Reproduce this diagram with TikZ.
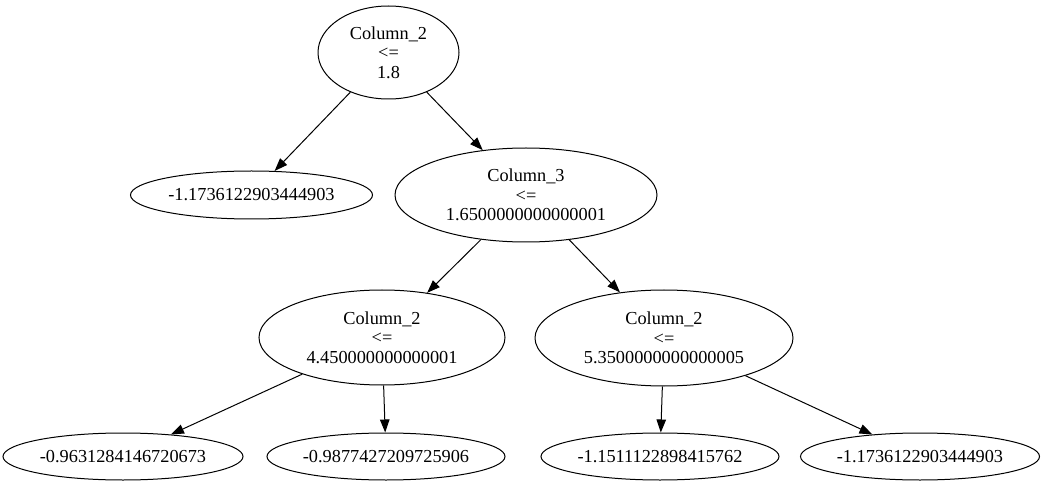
\documentclass[tikz,border=0pt]{standalone}
\usepackage{fontspec}
\setmainfont{Liberation Serif}
\usetikzlibrary{shapes.geometric,arrows.meta}
\begin{document}
\begin{tikzpicture}[x=1pt,y=-1pt,
  nd/.style={draw,ellipse,inner sep=0pt,line width=1pt,align=center,
    font=\fontsize{18.3}{19.5}\selectfont},
  edge/.style={line width=1pt,-{Triangle[length=13pt,width=9.5pt]}}]
\useasboundingbox[fill=white] (0,0) rectangle (1052,486);
\node[nd,minimum width=141pt,minimum height=93pt] (root) at (388.5,52.5) {Column\_2\\<=\\1.8};
\node[nd,minimum width=242pt,minimum height=48pt] (l1) at (251.5,195) {-1.1736122903444903};
\node[nd,minimum width=262pt,minimum height=94pt] (c3) at (526,195) {Column\_3\\<=\\1.6500000000000001};
\node[nd,minimum width=246pt,minimum height=95pt] (c2a) at (382,337.5) {Column\_2\\<=\\4.450000000000001};
\node[nd,minimum width=258pt,minimum height=96pt] (c2b) at (664,338) {Column\_2\\<=\\5.3500000000000005};
\node[nd,minimum width=240pt,minimum height=47pt] (a1) at (123,456.5) {-0.9631284146720673};
\node[nd,minimum width=238pt,minimum height=47pt] (a2) at (386,456.5) {-0.9877427209725906};
\node[nd,minimum width=238pt,minimum height=47pt] (b1) at (660,456.5) {-1.1511122898415762};
\node[nd,minimum width=239pt,minimum height=47pt] (b2) at (920,456.5) {-1.1736122903444903};
\draw[edge] (root) -- (l1);
\draw[edge] (root) -- (c3);
\draw[edge] (c3) -- (c2a);
\draw[edge] (c3) -- (c2b);
\draw[edge] (c2a) -- (a1);
\draw[edge] (c2a) -- (a2);
\draw[edge] (c2b) -- (b1);
\draw[edge] (c2b) -- (b2);
\end{tikzpicture}
\end{document}
